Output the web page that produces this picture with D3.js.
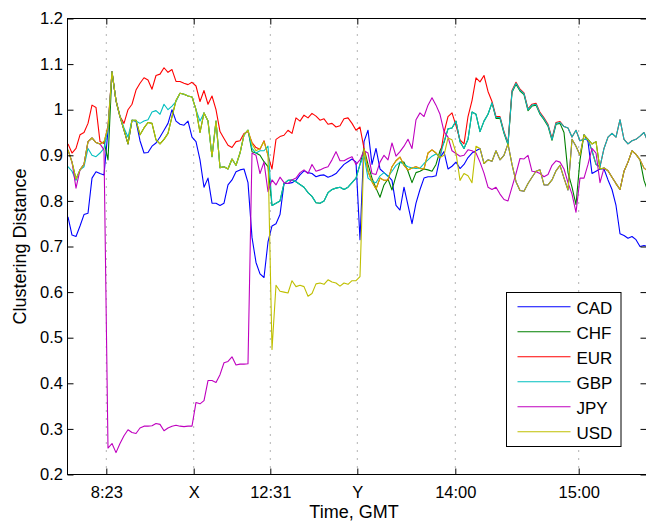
<!DOCTYPE html>
<html>
<head>
<meta charset="utf-8">
<script src="https://cdn.jsdelivr.net/npm/d3@7"></script>
<style>
  body { margin: 0; background: #fff; }
  svg { display: block; font-family: 'Liberation Sans', Arial, Helvetica, sans-serif; }
</style>
</head>
<body>
<svg id="chart" width="646" height="523"></svg>
<script>
/* global d3 */

const currencies = ['CAD', 'CHF', 'EUR', 'GBP', 'JPY', 'USD'];
const colors = ['#0000ff', '#008000', '#ff0000', '#00bfbf', '#bf00bf', '#bfbf00'];

// x is the sample index; the labelled ticks sit at these samples
const xTickPos = [9.575, 31.425, 50.575, 72.325, 96.825, 127.675];
const xTickLabels = ['8:23', 'X', '12:31', 'Y', '14:00', '15:00'];
const yTicks = [0.2, 0.3, 0.4, 0.5, 0.6, 0.7, 0.8, 0.9, 1.0, 1.1, 1.2];

const CAD = [
	0.765, 0.725, 0.722, 0.745, 0.77, 0.773, 0.85, 0.864, 0.86, 0.857,
	0.955, 1.083, 1.02, 0.985, 0.955, 0.925, 0.977, 0.975, 0.932, 0.905,
	0.906, 0.92, 0.927, 0.94, 0.955, 0.97, 1.0, 0.975, 0.968, 0.966,
	0.975, 0.94, 0.93, 0.89, 0.83, 0.85, 0.795, 0.795, 0.79, 0.795,
	0.835, 0.846, 0.864, 0.868, 0.87, 0.84, 0.72, 0.665, 0.64, 0.632,
	0.71, 0.745, 0.75, 0.77, 0.838, 0.838, 0.84, 0.845, 0.857, 0.866,
	0.862, 0.86, 0.853, 0.856, 0.857, 0.852, 0.855, 0.86, 0.87, 0.88,
	0.886, 0.892, 0.885, 0.715, 0.93, 0.955, 0.88, 0.915, 0.87, 0.862,
	0.855, 0.845, 0.79, 0.78, 0.83, 0.79, 0.75, 0.795, 0.825, 0.85,
	0.853, 0.853, 0.855, 0.895, 0.908, 0.87, 0.876, 0.885, 0.871, 0.88,
	0.895, 0.905, 0.91, 0.915, 0.882, 0.89, 0.887, 0.91, 0.89, 0.9,
	0.925, 0.88, 0.842, 0.823, 0.821, 0.838, 0.852, 0.865, 0.868, 0.835,
	0.835, 0.846, 0.866, 0.878, 0.85, 0.824, 0.935, 0.92, 0.9, 0.945,
	0.93, 0.86, 0.865, 0.87, 0.87, 0.846, 0.825, 0.79, 0.728, 0.724,
	0.718, 0.722, 0.715, 0.7, 0.702, 0.7
];
const CHF = [
	0.912, 0.885, 0.848, 0.868, 0.88, 0.93, 0.938, 0.928, 0.925, 0.93,
	0.89, 1.083, 1.02, 0.985, 0.955, 0.925, 0.977, 0.977, 0.945, 0.96,
	0.972, 0.97, 0.934, 0.925, 0.935, 0.948, 0.985, 1.02, 1.036, 1.034,
	1.03, 1.028, 1.0, 0.95, 0.993, 0.975, 0.897, 0.975, 0.873, 0.875,
	0.87, 0.892, 0.878, 0.905, 0.945, 0.955, 0.908, 0.905, 0.9, 0.886,
	0.875, 0.79, 0.795, 0.8, 0.838, 0.845, 0.846, 0.842, 0.836, 0.83,
	0.818, 0.81, 0.796, 0.795, 0.8, 0.818, 0.825, 0.828, 0.83, 0.825,
	0.83, 0.84, 0.85, 0.88, 0.915, 0.88, 0.85, 0.828, 0.808, 0.835,
	0.848, 0.824, 0.855, 0.885, 0.885, 0.865, 0.84, 0.862, 0.865, 0.87,
	0.868, 0.865, 0.88, 0.91, 0.928, 0.958, 0.96, 0.975, 0.93, 0.915,
	0.935, 0.995, 0.99, 0.952, 0.975, 0.99, 1.015, 0.981, 0.981, 0.948,
	0.923, 1.038, 1.056, 1.041, 1.033, 0.998, 1.008, 1.01, 0.99, 0.978,
	0.964, 0.933, 0.968, 0.97, 0.95, 0.862, 0.83, 0.792, 0.89, 0.945,
	0.935, 0.925, 0.93, 0.87, 0.872, 0.866, 0.852, 0.838, 0.825, 0.865,
	0.885, 0.91, 0.902, 0.89, 0.845, 0.82
];
const EUR = [
	0.925, 0.905, 0.915, 0.945, 0.95, 0.97, 1.01, 1.005, 0.93, 0.926,
	0.965, 1.083, 1.02, 0.985, 0.97, 1.0, 1.012, 1.043, 1.058, 1.07,
	1.065, 1.045, 1.075, 1.078, 1.092, 1.082, 1.088, 1.062, 1.062, 1.058,
	1.055, 1.06, 1.052, 1.018, 1.042, 1.012, 1.03, 1.0, 0.952, 0.937,
	0.922, 0.917, 0.93, 0.932, 0.948, 0.952, 0.928, 0.917, 0.913, 0.932,
	0.9, 0.87, 0.935, 0.941, 0.944, 0.955, 0.948, 0.982, 0.975, 0.988,
	0.982, 0.992, 0.986, 0.977, 0.98, 0.968, 0.97, 0.962, 0.965, 0.98,
	0.982, 0.97, 0.955, 0.962, 0.915, 0.865, 0.842, 0.826, 0.85, 0.845,
	0.846, 0.875, 0.888, 0.896, 0.878, 0.868, 0.872, 0.875, 0.871, 0.87,
	0.905, 0.912, 0.905, 0.895, 0.95, 0.985, 0.993, 0.965, 0.934, 0.925,
	0.985, 1.02, 1.07, 1.061, 1.075, 1.04, 1.018, 0.985, 0.985, 0.952,
	0.927, 1.042, 1.06, 1.045, 1.037, 1.002, 1.012, 1.014, 0.994, 0.982,
	0.968, 0.937, 0.972, 0.974, 0.963, 0.96, 0.94, 0.955, 0.932, 0.935,
	0.935, 0.91, 0.88, 0.875, 0.915, 0.94, 0.948, 0.94, 0.978, 0.935,
	0.925, 0.932, 0.935, 0.942, 0.95, 0.93
];
const GBP = [
	0.875, 0.865, 0.845, 0.868, 0.875, 0.915, 0.9, 0.897, 0.905, 0.915,
	0.96, 1.083, 1.02, 0.985, 0.96, 0.94, 0.977, 0.975, 0.97, 0.975,
	0.978, 0.995, 0.998, 0.99, 1.012, 1.0, 1.008, 1.018, 1.036, 1.034,
	1.03, 1.028, 1.0, 0.975, 0.993, 0.975, 0.897, 0.975, 0.873, 0.875,
	0.87, 0.892, 0.878, 0.905, 0.945, 0.955, 0.915, 0.905, 0.91, 0.91,
	0.92, 0.79, 0.795, 0.8, 0.838, 0.845, 0.846, 0.842, 0.836, 0.83,
	0.818, 0.81, 0.796, 0.795, 0.8, 0.818, 0.825, 0.828, 0.83, 0.825,
	0.83, 0.84, 0.85, 0.88, 0.9, 0.85, 0.843, 0.84, 0.855, 0.862,
	0.853, 0.865, 0.878, 0.885, 0.88, 0.875, 0.872, 0.871, 0.872, 0.882,
	0.89, 0.898, 0.903, 0.897, 0.93, 0.958, 0.96, 0.975, 0.93, 0.915,
	0.935, 0.995, 0.99, 0.952, 0.975, 0.99, 1.015, 0.983, 0.983, 0.95,
	0.925, 1.04, 1.058, 1.043, 1.035, 1.0, 1.01, 1.012, 0.992, 0.98,
	0.966, 0.935, 0.97, 0.972, 0.963, 0.96, 0.94, 0.955, 0.932, 0.935,
	0.935, 0.91, 0.88, 0.875, 0.915, 0.94, 0.948, 0.94, 0.978, 0.935,
	0.925, 0.932, 0.935, 0.942, 0.95, 0.93
];
const JPY = [
	0.912, 0.885, 0.828, 0.868, 0.88, 0.93, 0.938, 0.928, 0.925, 0.912,
	0.258, 0.268, 0.248, 0.268, 0.285, 0.298, 0.292, 0.29, 0.302, 0.306,
	0.306, 0.307, 0.312, 0.31, 0.296, 0.302, 0.306, 0.308, 0.306, 0.305,
	0.306, 0.306, 0.358, 0.355, 0.362, 0.406, 0.406, 0.402, 0.419, 0.445,
	0.448, 0.458, 0.44, 0.442, 0.442, 0.443, 0.905, 0.9, 0.86, 0.885,
	0.82, 0.846, 0.835, 0.852, 0.84, 0.838, 0.846, 0.85, 0.862, 0.868,
	0.86, 0.88, 0.865, 0.868, 0.872, 0.875, 0.89, 0.908, 0.888, 0.888,
	0.893, 0.897, 0.88, 0.89, 0.91, 0.905, 0.86, 0.858, 0.885, 0.9,
	0.89, 0.927, 0.898, 0.908, 0.92, 0.935, 0.915, 0.978, 0.993, 0.985,
	1.01, 1.026, 1.01, 0.99, 0.952, 0.94, 0.91, 0.904, 0.898, 0.9,
	0.912, 0.91, 0.905, 0.885, 0.861, 0.83, 0.825, 0.83, 0.815, 0.803,
	0.8, 0.83, 0.86, 0.893, 0.892, 0.9, 0.865, 0.864, 0.86, 0.853,
	0.858, 0.878, 0.888, 0.885, 0.87, 0.84, 0.815, 0.775, 0.85, 0.85,
	0.88, 0.915, 0.905, 0.84, 0.872, 0.866, 0.852, 0.838, 0.825, 0.865,
	0.885, 0.91, 0.902, 0.89, 0.872, 0.865
];
const USD = [
	0.912, 0.885, 0.848, 0.868, 0.88, 0.93, 0.938, 0.928, 0.925, 0.93,
	0.96, 1.083, 1.02, 0.985, 0.955, 0.925, 0.977, 0.977, 0.945, 0.96,
	0.972, 0.97, 0.934, 0.925, 0.935, 0.948, 0.985, 1.02, 1.036, 1.034,
	1.03, 1.028, 1.0, 0.95, 0.993, 0.975, 0.897, 0.975, 0.873, 0.875,
	0.87, 0.892, 0.878, 0.905, 0.945, 0.955, 0.925, 0.91, 0.915, 0.93,
	0.9, 0.474, 0.615, 0.602, 0.6, 0.598, 0.625, 0.612, 0.615, 0.612,
	0.591, 0.597, 0.618, 0.62, 0.617, 0.627, 0.622, 0.62, 0.613, 0.62,
	0.617, 0.625, 0.625, 0.634, 0.915, 0.865, 0.842, 0.826, 0.85, 0.845,
	0.846, 0.875, 0.888, 0.896, 0.878, 0.868, 0.872, 0.875, 0.871, 0.87,
	0.905, 0.912, 0.905, 0.895, 0.9, 0.938, 0.934, 0.905, 0.845, 0.86,
	0.855, 0.84, 0.92, 0.915, 0.882, 0.89, 0.887, 0.91, 0.89, 0.9,
	0.925, 0.88, 0.842, 0.823, 0.821, 0.838, 0.852, 0.865, 0.868, 0.835,
	0.835, 0.846, 0.866, 0.878, 0.85, 0.824, 0.935, 0.92, 0.9, 0.945,
	0.934, 0.925, 0.93, 0.87, 0.872, 0.866, 0.852, 0.838, 0.825, 0.865,
	0.885, 0.91, 0.902, 0.89, 0.872, 0.865
];

const series = [CAD, CHF, EUR, GBP, JPY, USD];

const svg = d3.select('#chart');

const plotLeft = 67.5;
const plotRight = 646.5; // right edge of the box falls just outside the picture
const plotTop = 18.5;
const plotBottom = 474.5;

const x = d3.scaleLinear().domain([0, 144]).range([68, 644]);
const y = d3.scaleLinear().domain([0.2, 1.2]).range([plotBottom, plotTop]);

svg.append('defs').append('clipPath').attr('id', 'plot')
	.append('rect')
		.attr('x', plotLeft).attr('y', plotTop)
		.attr('width', plotRight - plotLeft).attr('height', plotBottom - plotTop);

// dotted vertical grid at the labelled times
svg.append('g')
	.selectAll('line')
	.data(xTickPos)
	.enter().append('line')
		.attr('x1', d => x(d)).attr('x2', d => x(d))
		.attr('y1', plotTop).attr('y2', plotBottom)
		.attr('stroke', '#666')
		.attr('stroke-width', 1)
		.attr('stroke-dasharray', '1,7');

const line = d3.line()
	.x((d, i) => x(i))
	.y(d => y(d));

svg.append('g')
	.attr('clip-path', 'url(#plot)')
	.selectAll('path')
	.data(series)
	.enter().append('path')
		.attr('d', line)
		.attr('fill', 'none')
		.attr('stroke', (d, i) => colors[i])
		.attr('stroke-width', 1.1)
		.attr('stroke-linejoin', 'round');

const styleAxis = g => {
	g.select('.domain').remove();
	g.selectAll('.tick line').attr('stroke', '#000');
	g.selectAll('.tick text')
		.attr('fill', '#000')
		.style('font-size', '16.5px')
		.style('font-family', "'Liberation Sans', Arial, Helvetica, sans-serif");
};

svg.append('g')
	.attr('transform', `translate(0,${plotBottom})`)
	.call(d3.axisBottom(x).tickValues(xTickPos).tickFormat((d, i) => xTickLabels[i])
		.tickSizeInner(-6).tickSizeOuter(0).tickPadding(11.5))
	.call(styleAxis);

svg.append('g')
	.attr('transform', `translate(0,${plotTop})`)
	.call(d3.axisTop(x).tickValues(xTickPos).tickFormat('').tickSizeInner(-6).tickSizeOuter(0))
	.call(styleAxis);

svg.append('g')
	.attr('transform', `translate(${plotLeft},0)`)
	.call(d3.axisLeft(y).tickValues(yTicks).tickFormat(d => String(+d.toFixed(1)))
		.tickSizeInner(-6).tickSizeOuter(0).tickPadding(4.5))
	.call(styleAxis);

svg.append('g')
	.attr('transform', `translate(${plotRight},0)`)
	.call(d3.axisRight(y).tickValues(yTicks).tickFormat('').tickSizeInner(-6).tickSizeOuter(0))
	.call(styleAxis);

svg.append('rect')
	.attr('x', plotLeft).attr('y', plotTop)
	.attr('width', plotRight - plotLeft).attr('height', plotBottom - plotTop)
	.attr('fill', 'none')
	.attr('stroke', '#000');

// axis labels
svg.append('text')
	.attr('x', 354).attr('y', 517.5)
	.attr('text-anchor', 'middle')
	.style('font-size', '18px')
	.text('Time, GMT');

svg.append('text')
	.attr('transform', 'translate(25.5,246.5) rotate(-90)')
	.attr('text-anchor', 'middle')
	.style('font-size', '18px')
	.text('Clustering Distance');

// legend
const legend = svg.append('g');
legend.append('rect')
	.attr('x', 506.5).attr('y', 292.5)
	.attr('width', 114.5).attr('height', 154)
	.attr('fill', '#fff')
	.attr('stroke', '#000');

const row = legend.selectAll('.row')
	.data(currencies)
	.enter().append('g')
		.attr('class', 'row')
		.attr('transform', (d, i) => `translate(0,${306.7 + i * 25})`);

row.append('line')
	.attr('x1', 517.5).attr('x2', 570.5)
	.attr('stroke', (d, i) => colors[i])
	.attr('stroke-width', 1.1);

row.append('text')
	.attr('x', 576.5)
	.attr('dy', '0.43em')
	.style('font-size', '17px')
	.text(d => d);
</script>
</body>
</html>
